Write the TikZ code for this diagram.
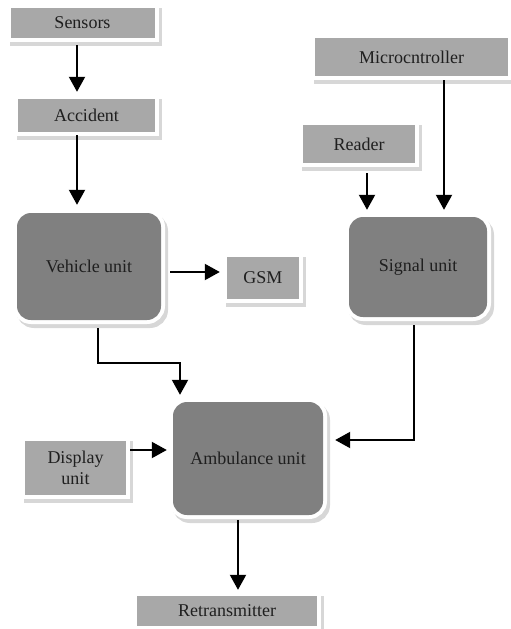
\documentclass[tikz,border=0pt]{standalone}
\usepackage{fontspec}
\setmainfont{Liberation Serif}
\usetikzlibrary{arrows.meta}
\definecolor{lightbox}{RGB}{168,168,168}
\definecolor{darkbox}{RGB}{128,128,128}
\definecolor{shadowgray}{RGB}{215,215,215}
\tikzset{
  shadowed/.style={
    preaction={fill=shadowgray, draw=shadowgray, line width=8pt, transform canvas={shift={(3pt,-4pt)}}},
    preaction={fill=white, draw=white, line width=8pt}},
  lbox/.style={shadowed, fill=lightbox, inner sep=0pt, font=\fontsize{18}{21}\selectfont, text=black!88},
  dbox/.style={shadowed, fill=darkbox, rounded corners=14pt, inner sep=0pt, font=\fontsize{18}{21}\selectfont, text=black!88},
  arr/.style={line width=2pt, -{Triangle[length=15pt,width=16pt]}}
}
\begin{document}
\begin{tikzpicture}[x=1pt,y=-1pt]
\useasboundingbox (0,0) rectangle (511,629);
\node[lbox, minimum width=144pt, minimum height=30pt] (sensors) at (82.5,22.5) {Sensors};
\node[lbox, minimum width=137pt, minimum height=33pt] (accident) at (86.5,115.5) {Accident};
\node[dbox, minimum width=144pt, minimum height=107pt] (veh) at (89,266.5) {Vehicle unit};
\node[lbox, minimum width=72pt, minimum height=42pt] (gsm) at (263,278) {GSM};
\node[dbox, minimum width=150pt, minimum height=113pt] (amb) at (248,458.5) {Ambulance unit};
\node[lbox, minimum width=101pt, minimum height=54pt, align=center] (disp) at (75.5,468) {Display\\unit};
\node[lbox, minimum width=180pt, minimum height=30pt] (retr) at (227,611) {Retransmitter};
\node[lbox, minimum width=193pt, minimum height=38pt] (micro) at (411.5,57) {Microcntroller};
\node[lbox, minimum width=112pt, minimum height=38pt] (reader) at (359,144) {Reader};
\node[dbox, minimum width=138pt, minimum height=100pt] (sig) at (418,267) {Signal unit};

\draw[arr] ([shift={(-5.5,7.5)}]sensors.south) -- ([shift={(-9.5,-7)}]accident.north);
\draw[arr] ([shift={(-9.5,3)}]accident.south) -- ([shift={(-12,-8)}]veh.north);
\draw[arr] ([shift={(9,5.5)}]veh.east) -- ([shift={(-7,-6)}]gsm.west);
\draw[arr] ([shift={(9,8)}]veh.south) |- ([shift={(-68,-39)}]amb.north) -- ([shift={(-68,-7)}]amb.north);
\draw[arr] ([shift={(4,-18)}]disp.east) -- ([shift={(-6,-8.5)}]amb.west);
\draw[arr] ([shift={(-4,8)}]sig.south) |- ([shift={(12,-18.5)}]amb.east);
\draw[arr] ([shift={(8,10)}]reader.south) -- ([shift={(-51,-7)}]sig.north);
\draw[arr] ([shift={(32.5,4)}]micro.south) -- ([shift={(26,-7)}]sig.north);
\draw[arr] ([shift={(-10,5)}]amb.south) -- ([shift={(11,-6)}]retr.north);
\end{tikzpicture}
\end{document}
